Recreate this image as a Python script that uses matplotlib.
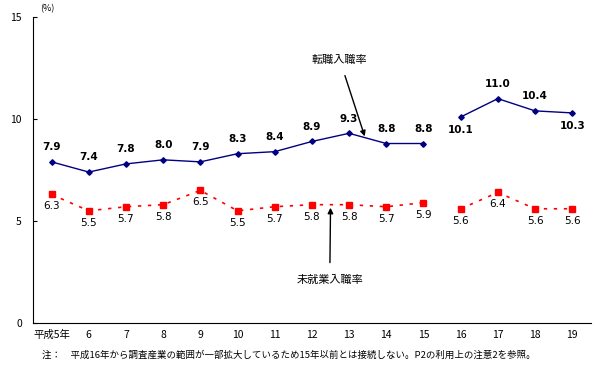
import numpy as np
import matplotlib
matplotlib.use('Agg')
import matplotlib.pyplot as plt

plt.rcParams['font.family'] = ['Noto Sans CJK JP', 'DejaVu Sans']

# data
years = ['平成5年', '6', '7', '8', '9', '10', '11', '12', '13', '14', '15', '16', '17', '18', '19']
tenshoku = [7.9, 7.4, 7.8, 8.0, 7.9, 8.3, 8.4, 8.9, 9.3, 8.8, 8.8, 10.1, 11.0, 10.4, 10.3]
mishugyo = [6.3, 5.5, 5.7, 5.8, 6.5, 5.5, 5.7, 5.8, 5.8, 5.7, 5.9, 5.6, 6.4, 5.6, 5.6]
break_after = 11  # series not connected between 15 and 16
tenshoku_below = ['16', '19']

fig = plt.figure(figsize=(5.98, 3.79), dpi=100)
ax = fig.add_axes([0.0552, 0.1478, 0.9328, 0.8072])

x = np.arange(len(years))
blue = '#000080'
red = '#ff0000'

for seg in (slice(0, break_after), slice(break_after, None)):
    ax.plot(x[seg], tenshoku[seg], color=blue, lw=1, marker='D', ms=2.8, mfc=blue, mec=blue)
    ax.plot(x[seg], mishugyo[seg], color=red, lw=1.2, ls=(0, (2, 4)), marker='s', ms=4, mfc=red, mec=red)

for i, (a, b) in enumerate(zip(tenshoku, mishugyo)):
    if years[i] in tenshoku_below:
        ax.annotate(f'{a:.1f}', (i, a), xytext=(0, -6), textcoords='offset points',
                    ha='center', va='top', fontsize=7.5, fontweight='bold', family='DejaVu Sans')
    else:
        ax.annotate(f'{a:.1f}', (i, a), xytext=(0, 7), textcoords='offset points',
                    ha='center', va='bottom', fontsize=7.5, fontweight='bold', family='DejaVu Sans')
    ax.annotate(f'{b:.1f}', (i, b), xytext=(0, -5), textcoords='offset points',
                ha='center', va='top', fontsize=7.5, family='DejaVu Sans')

ax.annotate('転職入職率', xy=(8.42, 9.15), xytext=(7.75, 12.9), fontsize=8,
            ha='center', va='center',
            arrowprops=dict(arrowstyle='-|>', color='black', lw=1, shrinkA=6, shrinkB=0))
ax.annotate('未就業入職率', xy=(7.5, 5.65), xytext=(7.48, 2.1), fontsize=8,
            ha='center', va='center',
            arrowprops=dict(arrowstyle='-|>', color='black', lw=1, shrinkA=7, shrinkB=0))

ax.set_xlim(-0.5, len(years) - 0.5)
ax.set_ylim(0, 15)
ax.set_yticks([0, 5, 10, 15])
ax.set_xticks(x)
ax.set_xticklabels(years, fontsize=7.5)
ax.tick_params(axis='y', direction='in', length=3, labelsize=7.5, pad=8)
ax.tick_params(axis='x', length=0, pad=5)
for s in ['top', 'right']:
    ax.spines[s].set_visible(False)

fig.text(0.067, 0.99, '(%)', fontsize=6.5, va='top')
fig.text(0.07, 0.063, '注：　平成16年から調査産業の範囲が一部拡大しているため15年以前とは接続しない。P2の利用上の注意2を参照。',
         fontsize=6.8, va='center')

fig.savefig('out.png', dpi=100)
